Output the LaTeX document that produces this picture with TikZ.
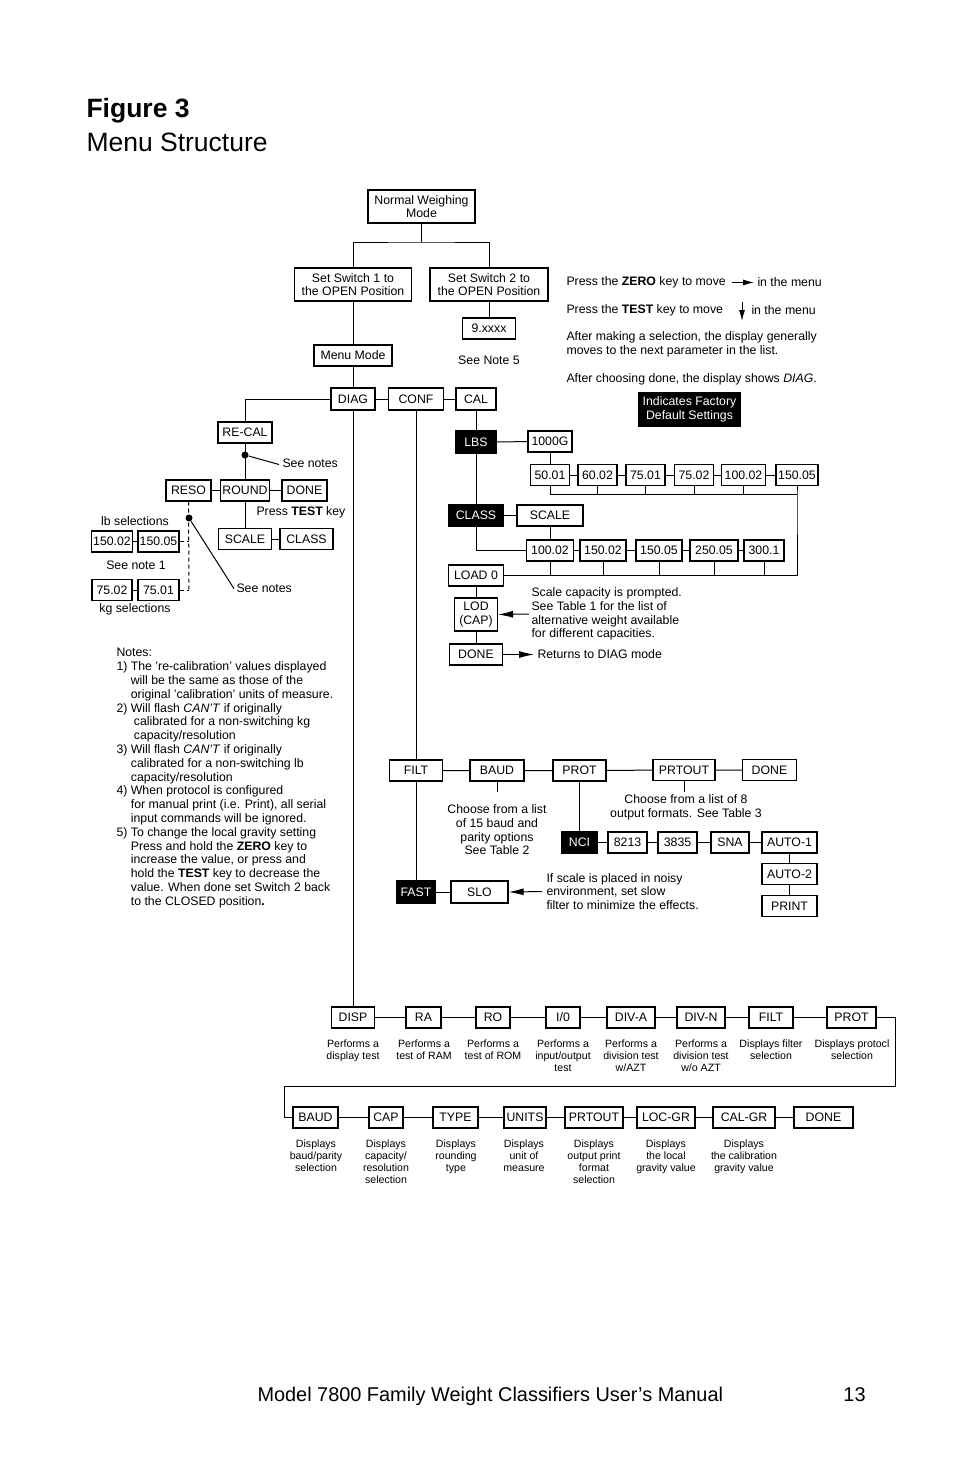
\documentclass[tikz,border=0pt]{standalone}
\usepackage{fontspec}
\setmainfont{Liberation Sans}
\usepackage{tikz}
\usetikzlibrary{arrows.meta,positioning,calc}

\newcommand{\noteind}{\hphantom{1) }}

\begin{document}
\begin{tikzpicture}[
    x=1pt, y=-1pt,
    font=\fontsize{12.3}{13.8}\selectfont,
    line width=1pt,
    >={Latex[length=15pt,width=7pt]},
    box/.style={draw, line width=1.1pt, align=center, inner xsep=1.5pt, inner ysep=0pt, minimum height=21pt},
    tallbox/.style={box, minimum height=33pt},
    blackbox/.style={box, fill=black, text=white},
    caption/.style={align=center, font=\fontsize{10.6}{12}\selectfont, anchor=north, inner sep=0pt},
    remark/.style={align=left, anchor=west, inner sep=0pt},
    joint/.style={circle, fill=black, inner sep=0pt, minimum size=7pt},
    arrow/.style={->},
    smallarrow/.style={-{Latex[length=11pt,width=6pt]}},
    dashline/.style={dash pattern=on 4pt off 3pt}
]
\useasboundingbox (0,0) rectangle (954,1475);

% ===================== TITLE =====================
\node[remark, font=\fontsize{26.5}{30}\selectfont\bfseries] (figno) at (86,111) {Figure 3};
\node[remark, font=\fontsize{26.5}{30}\selectfont] (figtitle) at (86,142) {Menu Structure};

% ===================== ENTRY =====================
\node[tallbox, minimum width=107] (normal) at (421.5,206.5) {Normal Weighing\\Mode};
\node[tallbox, minimum width=117] (sw1) at (353,284.5) {Set Switch 1 to\\the OPEN Position};
\node[tallbox, minimum width=118] (sw2) at (489,284.5) {Set Switch 2 to\\the OPEN Position};
\node[box, minimum width=53] (xxxx) at (489,328.5) {9.xxxx};
\node (note5) at (489,360.5) {See Note 5};
\node[box, minimum width=78] (menu) at (353,355.5) {Menu Mode};
\node[box, minimum width=44, minimum height=22] (diag) at (353,399) {DIAG};
\node[box, minimum width=55, minimum height=22] (conf) at (416,399) {CONF};
\node[box, minimum width=40, minimum height=22] (cal) at (476,399) {CAL};

% ===================== KEYS =====================
\node[remark] (zeroa) at (566,282.5) {Press the \textbf{ZERO} key to move};
\node[remark] (zerob) at (757,282.5) {in the menu};
\node[remark] (testa) at (566,310.5) {Press the \textbf{TEST} key to move};
\node[remark] (testb) at (751,310.5) {in the menu};
\coordinate (testtop) at (742,302);
\node[remark, anchor=north west] (selnote) at (566,331.5) {After making a selection, the display generally\\moves to the next parameter in the list.};
\node[remark] (donenote) at (566,379.5) {After choosing done, the display shows \textit{DIAG}.};
\node[blackbox, minimum height=33, minimum width=101] (legend) at (689.5,409.5) {Indicates Factory\\Default Settings};

% ===================== RE-CAL =====================
\node[box, minimum width=54] (recal) at (245,432.5) {RE-CAL};
\node[joint] (recaldot) at (245,455) {};
\node[remark] (seea) at (282,463.5) {See notes};
\node[box, minimum width=45] (reso) at (188.5,490.5) {RESO};
\node[box, minimum width=49] (round) at (245,490.5) {ROUND};
\node[box, minimum width=45] (rdone) at (304.5,490.5) {DONE};
\node[remark] (presstest) at (256,512.5) {Press \textbf{TEST} key};
\node[box, minimum width=53] (rscale) at (245,539) {SCALE};
\node[box, minimum width=53] (rclass) at (306.5,539) {CLASS};
\node[joint] (resodot) at (189,518) {};
\node[remark] (seeb) at (236,588.5) {See notes};
\node (lbsel) at (135,521.5) {lb selections};
\node[box, minimum width=40] (lb15002) at (112,541.5) {150.02};
\node[box, minimum width=41] (lb15005) at (158.5,541.5) {150.05};
\node (seenote1) at (136,565.5) {See note 1};
\node[box, minimum width=40] (kg7502) at (112,590) {75.02};
\node[box, minimum width=41] (kg7501) at (158.5,590) {75.01};
\node (kgsel) at (135,609.5) {kg selections};
\coordinate (dashend) at (189,590);

% ===================== NOTES =====================
\node[remark, anchor=north west] (notes) at (116,648) {Notes:\\
1) The 're-calibration' values displayed\\
\noteind will be the same as those of the\\
\noteind original 'calibration' units of measure.\\
2) Will flash \textit{CAN'T} if originally\\
\noteind\hspace*{3pt}calibrated for a non-switching kg\\
\noteind\hspace*{3pt}capacity/resolution\\
3) Will flash \textit{CAN'T} if originally\\
\noteind calibrated for a non-switching lb\\
\noteind capacity/resolution\\
4) When protocol is configured\\
\noteind for manual print (i.e. Print), all serial\\
\noteind input commands will be ignored.\\
5) To change the local gravity setting\\
\noteind Press and hold the \textbf{ZERO} key to\\
\noteind increase the value, or press and\\
\noteind hold the \textbf{TEST} key to decrease the\\
\noteind value. When done set Switch 2 back\\
\noteind to the CLOSED position\textbf{.}};

% ===================== CAL =====================
\node[blackbox, minimum width=40, minimum height=22] (lbs) at (476,442) {LBS};
\node[box, minimum width=44] (g1000) at (550,441.5) {1000G};
\node[box, minimum width=39] (l5001) at (550,475) {50.01};
\node[box, minimum width=39] (l6002) at (597.5,475) {60.02};
\node[box, minimum width=39] (l7501) at (645.5,475) {75.01};
\node[box, minimum width=39] (l7502) at (694,475) {75.02};
\node[box, minimum width=44] (l10002) at (743.5,475) {100.02};
\node[box, minimum width=42] (l15005) at (797,475) {150.05};
\coordinate (busa) at (797,494);
\node[blackbox, minimum width=55] (class) at (476,515.5) {CLASS};
\node[box, minimum width=66] (cscale) at (550,515.5) {SCALE};
\node[box, minimum width=47] (c10002) at (550,550.5) {100.02};
\node[box, minimum width=46] (c15002) at (603,550.5) {150.02};
\node[box, minimum width=46] (c15005) at (659,550.5) {150.05};
\node[box, minimum width=48] (c25005) at (714,550.5) {250.05};
\node[box, minimum width=40] (c3001) at (764,550.5) {300.1};
\node[box, minimum width=55] (load0) at (476,575.5) {LOAD 0};
\coordinate (busb) at (797,575.5);
\node[tallbox, minimum width=43] (lod) at (476,614.5) {LOD\\(CAP)};
\node[box, minimum width=53] (cdone) at (476,654.5) {DONE};
\node[remark] (capnote) at (531,614) {Scale capacity is prompted.\\See Table 1 for the list of\\alternative weight available\\for different capacities.};
\node[remark] (returns) at (537,654.5) {Returns to DIAG mode};

% ===================== CONF =====================
\node[box, minimum width=53] (filt) at (416,770.5) {FILT};
\node[box, minimum width=54] (baud) at (497,770.5) {BAUD};
\node[box, minimum width=53] (prot) at (579.5,770.5) {PROT};
\node[box, minimum width=62] (prtout) at (684,770) {PRTOUT};
\node[box, minimum width=54] (pdone) at (769.5,770) {DONE};
\coordinate (baudstem) at (497,792);
\coordinate (prtstem) at (684,792);
\node[caption, font=\fontsize{12.3}{13.8}\selectfont] (baudnote) at (497,804) {Choose from a list\\of 15 baud and\\parity options\\See Table 2};
\node[caption, font=\fontsize{12.3}{13.8}\selectfont] (prtnote) at (686,794) {Choose from a list of 8\\output formats. See Table 3};
\node[blackbox, minimum width=36] (nci) at (579.5,842.5) {NCI};
\node[box, minimum width=39] (p8213) at (627.5,842.5) {8213};
\node[box, minimum width=39] (p3835) at (677.5,842.5) {3835};
\node[box, minimum width=38] (sna) at (730,842.5) {SNA};
\node[box, minimum width=55] (auto1) at (789.5,842.5) {AUTO-1};
\node[box, minimum width=55] (auto2) at (789.5,874) {AUTO-2};
\node[box, minimum width=55] (pprint) at (789.5,906) {PRINT};
\node[blackbox, minimum width=39, minimum height=22] (fast) at (416,892) {FAST};
\node[box, minimum width=57, minimum height=22] (slo) at (479.5,892) {SLO};
\node[remark] (slonote) at (546,891.5) {If scale is placed in noisy\\environment, set slow\\filter to minimize the effects.};

% ===================== DIAG =====================
\node[box, minimum width=43] (disp) at (353,1017.5) {DISP};
\node[box, minimum width=35] (ra) at (423.5,1017.5) {RA};
\node[box, minimum width=34] (ro) at (493,1017.5) {RO};
\node[box, minimum width=34] (io) at (563,1017.5) {I/0};
\node[box, minimum width=48] (diva) at (631,1017.5) {DIV-A};
\node[box, minimum width=48] (divn) at (701,1017.5) {DIV-N};
\node[box, minimum width=44] (dfilt) at (771,1017.5) {FILT};
\node[box, minimum width=49] (dprot) at (851.5,1017.5) {PROT};
\coordinate (wrapr) at (895,1086);
\coordinate (wrapl) at (284,1086);
\node[box, minimum width=45] (dbaud) at (315.5,1117.5) {BAUD};
\node[box, minimum width=34] (dcap) at (386,1117.5) {CAP};
\node[box, minimum width=45] (dtype) at (455.5,1117.5) {TYPE};
\node[box, minimum width=42] (dunits) at (525,1117.5) {UNITS};
\node[box, minimum width=58] (dprtout) at (594,1117.5) {PRTOUT};
\node[box, minimum width=58] (locgr) at (666,1117.5) {LOC-GR};
\node[box, minimum width=62] (calgr) at (744,1117.5) {CAL-GR};
\node[box, minimum width=59] (ddone) at (823.5,1117.5) {DONE};

\node[caption] (tdisp) at (353,1039) {Performs a\\display test};
\node[caption] (tra) at (424,1039) {Performs a\\test of RAM};
\node[caption] (tro) at (493,1039) {Performs a\\test of ROM};
\node[caption] (tio) at (563,1039) {Performs a\\input/output\\test};
\node[caption] (tdiva) at (631,1039) {Performs a\\division test\\w/AZT};
\node[caption] (tdivn) at (701,1039) {Performs a\\division test\\w/o AZT};
\node[caption] (tfilt) at (771,1039) {Displays filter\\selection};
\node[caption] (tprot) at (852,1039) {Displays protocl\\selection};
\node[caption] (tbaud) at (316,1139) {Displays\\baud/parity\\selection};
\node[caption] (tcap) at (386,1139) {Displays\\capacity/\\resolution\\selection};
\node[caption] (ttype) at (456,1139) {Displays\\rounding\\type};
\node[caption] (tunits) at (524,1139) {Displays\\unit of\\measure};
\node[caption] (tprtout) at (594,1139) {Displays\\output print\\format\\selection};
\node[caption] (tlocgr) at (666,1139) {Displays\\the local\\gravity value};
\node[caption] (tcalgr) at (744,1139) {Displays\\the calibration\\gravity value};

% ===================== FOOTER =====================
\node[remark, font=\fontsize{19.9}{23}\selectfont] (footer) at (257,1396) {Model 7800 Family Weight Classifiers User's Manual};
\node[font=\fontsize{19.9}{23}\selectfont] (pageno) at (854.5,1395) {13};

% ===================== ARROWS =====================
\coordinate (fork) at (421.5,242);
\draw (normal.south) -- (fork);
\draw (sw1.north) |- (fork) -| (sw2.north);
\draw (sw2) -- (xxxx);
\draw (sw1) -- (menu) -- (diag);
\draw (diag) -- (conf) -- (cal);
\draw[smallarrow, shorten <=6pt, shorten >=3pt] (zeroa.east) -- (zerob.west);
\draw[smallarrow] (testtop) -- ++(0,19);

\draw (diag.west) -| (recal.north);
\draw (recal) -- (round) -- (rscale);
\draw (recaldot) -- ([xshift=-3pt,yshift=-1pt]seea.west);
\draw (reso) -- (round) -- (rdone);
\draw (rscale) -- (rclass);
\draw[dashline] (reso.south) -- (dashend);
\draw (resodot) -- ([xshift=-2pt,yshift=-5pt]seeb.north west);
\draw (lb15002) -- (lb15005);
\draw (kg7502) -- (kg7501);
\draw[dashline] (lb15005.east) -- (lb15005.east -| dashend);
\draw[dashline] (kg7501.east) -- (dashend);

\draw (cal) -- (lbs) -- (class);
\draw (lbs) -- (g1000);
\draw (g1000) -- (l5001);
\draw (l5001) -- (l6002) -- (l7501) -- (l7502) -- (l10002) -- (l15005);
\draw (l5001.south) |- (busa);
\draw (l6002.south) -- (l6002.south |- busa);
\draw (l7501.south) -- (l7501.south |- busa);
\draw (l7502.south) -- (l7502.south |- busa);
\draw (l10002.south) -- (l10002.south |- busa);
\draw (l15005.south) -- (busa) -- (busb) -- (load0.east);
\draw (class) -- (cscale);
\draw (cscale) -- (c10002);
\draw (class.south) |- (c10002.west);
\draw (c10002) -- (c15002) -- (c15005) -- (c25005) -- (c3001);
\draw (c10002.south) -- (c10002.south |- busb);
\draw (c15002.south) -- (c15002.south |- busb);
\draw (c15005.south) -- (c15005.south |- busb);
\draw (c25005.south) -- (c25005.south |- busb);
\draw (c3001.south) -- (c3001.south |- busb);
\draw (load0) -- (lod) -- (cdone);
\draw[arrow] ([xshift=-2pt]capnote.west) -- (lod.east);
\draw[arrow, shorten >=3pt] (cdone.east) -- (returns.west);

\draw (conf) -- (filt) -- (fast);
\draw (fast) -- (slo);
\draw[arrow, shorten <=4pt] (slonote.west) -- (slo.east);
\draw (filt) -- (baud) -- (prot) -- (prtout) -- (pdone);
\draw (baud) -- (baudstem);
\draw (prtout) -- (prtstem);
\draw (prot) -- (nci);
\draw (nci) -- (p8213) -- (p3835) -- (sna) -- (auto1);
\draw (auto1) -- (auto2) -- (pprint);

\draw (diag) -- (disp);
\draw (disp) -- (ra) -- (ro) -- (io) -- (diva) -- (divn) -- (dfilt) -- (dprot);
\draw (dprot.east) -| (wrapr) -- (wrapl) |- (dbaud.west);
\draw (dbaud) -- (dcap) -- (dtype) -- (dunits) -- (dprtout) -- (locgr) -- (calgr) -- (ddone);

\end{tikzpicture}
\end{document}
